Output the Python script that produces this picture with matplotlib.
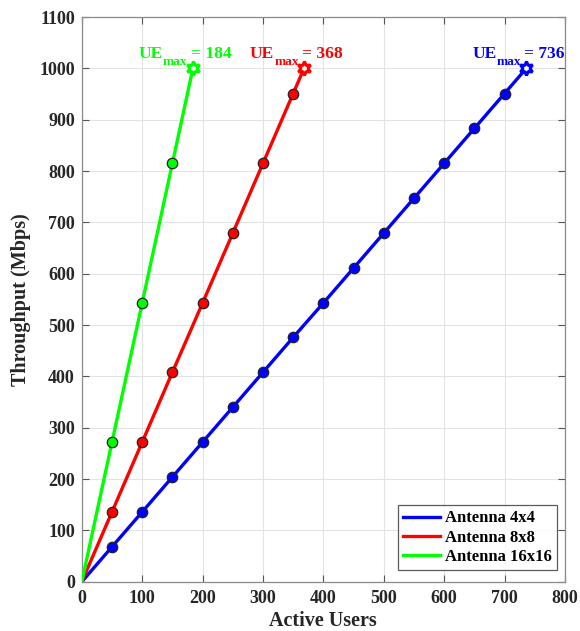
import matplotlib
matplotlib.use("Agg")
import matplotlib.pyplot as plt

plt.rcParams['font.family'] = ['Liberation Serif', 'DejaVu Serif']
plt.rcParams['font.weight'] = 'bold'

# Active users and throughput (Mbps) per antenna configuration
users_4x4 = [0, 50, 100, 150, 200, 250, 300, 350, 400, 450, 500, 550, 600, 650, 700, 736]
tput_4x4 = [0, 68, 136, 204, 272, 340, 408, 476, 543, 611, 679, 747, 815, 883, 951, 1000]

users_8x8 = [0, 50, 100, 150, 200, 250, 300, 350, 368]
tput_8x8 = [0, 136, 272, 408, 543, 679, 815, 951, 1000]

users_16x16 = [0, 50, 100, 150, 184]
tput_16x16 = [0, 272, 543, 815, 1000]

series = [
    ("Antenna 4x4", users_4x4, tput_4x4, "#0000ff", 736),
    ("Antenna 8x8", users_8x8, tput_8x8, "#ff0000", 368),
    ("Antenna 16x16", users_16x16, tput_16x16, "#00ff00", 184),
]

DPI = 100
fig = plt.figure(figsize=(5.8, 6.31), dpi=DPI)
ax = fig.add_axes([0.141, 0.078, 0.833, 0.895])

for name, xs, ys, color, uemax in series:
    ax.plot(xs, ys, color=color, lw=2.4, label=name, zorder=3)
    # intermediate samples
    ax.plot(xs[1:-1], ys[1:-1], ls='none', marker='o', ms=7.5,
            mfc=color, mec='#222222', mew=0.9, zorder=4)
    # capacity point
    ax.plot(xs[-1], ys[-1], ls='none', marker=(6, 1, 0), ms=10,
            mfc='white', mec=color, mew=2.2, zorder=5)

ax.set_xlim(0, 800)
ax.set_ylim(0, 1100)
ax.set_xticks(range(0, 801, 100))
ax.set_yticks(range(0, 1101, 100))
ax.grid(True, color='#e3e3e3', lw=0.8)
ax.set_axisbelow(True)
for s in ax.spines.values():
    s.set_color('#8a8a8a')
    s.set_linewidth(0.9)
ax.tick_params(direction='in', length=5, width=0.8, color='#555555',
               labelsize=13, labelcolor='#262626', top=True, right=True)
ax.tick_params(axis='x', pad=6)
ax.tick_params(axis='y', pad=5)
for lbl in ax.get_xticklabels() + ax.get_yticklabels():
    lbl.set_fontweight('bold')

ax.set_xlabel('Active Users', fontsize=14.5, fontweight='bold', color='#262626', labelpad=3)
ax.set_ylabel('Throughput (Mbps)', fontsize=14.5, fontweight='bold', color='#262626', labelpad=6)

leg = ax.legend(loc='lower right', fontsize=12, frameon=True, fancybox=False,
                edgecolor='#333333', handlelength=2.2, handletextpad=0.3,
                borderpad=0.3, labelspacing=0.2, borderaxespad=0.5,
                bbox_to_anchor=(1.0, 0.006))
leg.get_frame().set_linewidth(0.9)
for t in leg.get_texts():
    t.set_fontweight('bold')

# "UE_max = N" labels above each capacity point, built from three pieces
fig.canvas.draw()
renderer = fig.canvas.get_renderer()
px2pt = 72.0 / DPI
for name, xs, ys, color, uemax in series:
    x0 = -39.0
    parts = [("UE", 12.5, 7.2, 0.0), ("max", 9.5, 2.2, 2.5), (f"= {uemax}", 12.5, 7.2, 0.0)]
    for txt, size, dy, gap in parts:
        t = ax.annotate(txt, xy=(xs[-1], ys[-1]), xytext=(x0, dy),
                        textcoords='offset points', ha='left', va='baseline',
                        fontsize=size, fontweight='bold', color=color,
                        zorder=6, annotation_clip=False)
        w = t.get_window_extent(renderer).width
        x0 += w * px2pt + gap

fig.savefig('out.png', dpi=DPI)
